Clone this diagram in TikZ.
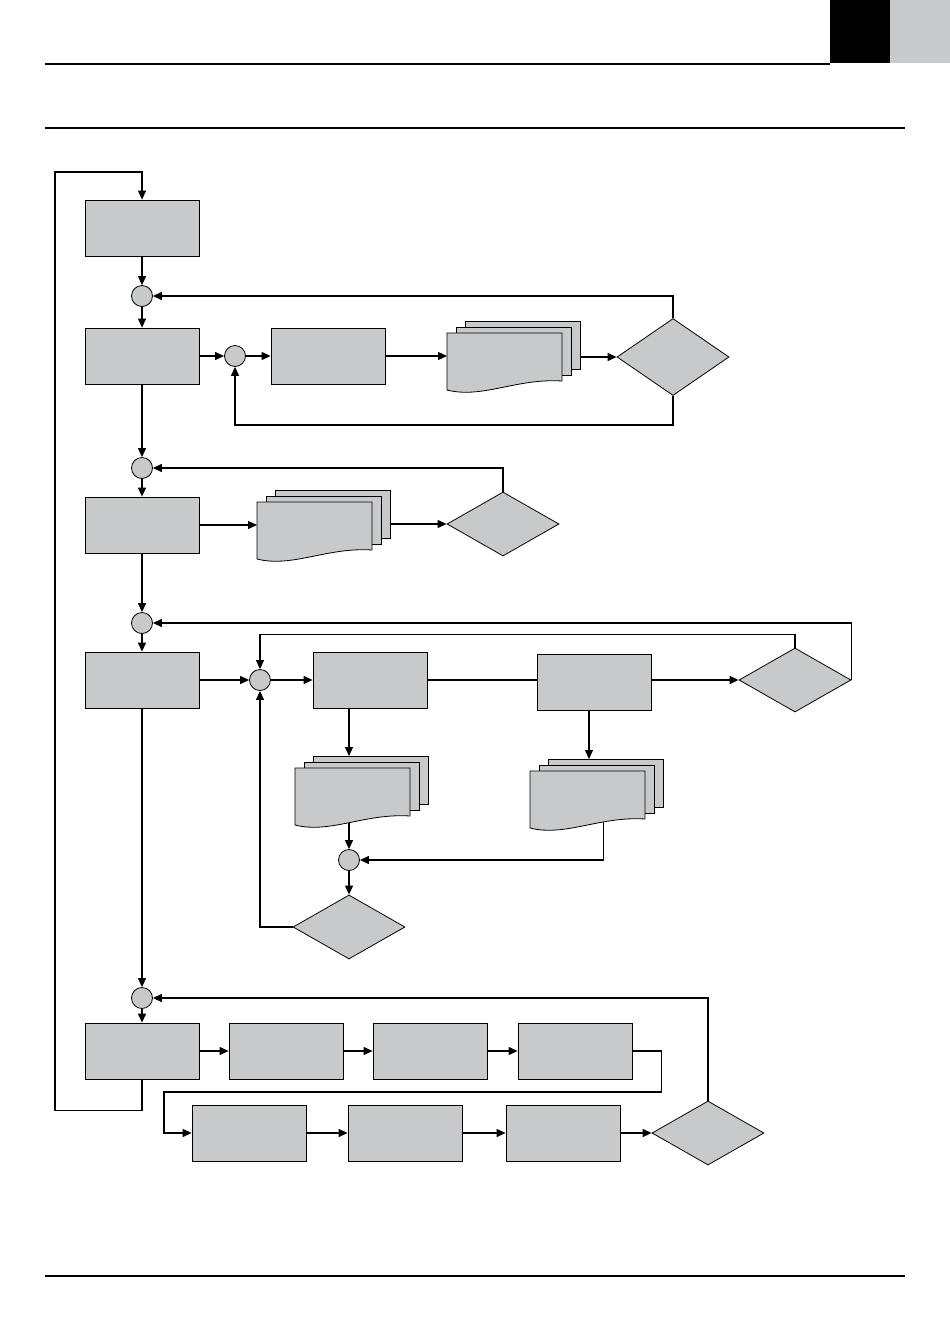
\documentclass[tikz,border=0pt]{standalone}
\usepackage{tikz}
\usetikzlibrary{shapes.geometric, arrows.meta, backgrounds}
\definecolor{boxgray}{RGB}{200,201,203}
\tikzset{
  blk/.style={draw, fill=boxgray, line width=.8pt, minimum width=114pt, minimum height=56pt, inner sep=0pt},
  junc/.style={circle, draw, fill=boxgray, line width=.8pt, minimum size=21pt, inner sep=0pt},
  dec/.style={diamond, draw, fill=boxgray, line width=.8pt, minimum width=112pt, minimum height=64pt, inner sep=0pt},
  sheet/.style={draw, fill=boxgray, line width=.8pt},
  arr/.style={line width=1.2pt, -{Triangle[length=9pt,width=8pt]}},
  ln/.style={line width=1.2pt}
}
\newcommand{\sheets}[3]{%
  \foreach \dx in {18,9} \draw[sheet] (#1+\dx,#2-\dx*2/3) rectangle ++(115,48);
  \draw[sheet] (#1,#2+57) -- (#1,#2) -- ++(115,0) -- ++(0,48) .. controls (#1+70,#2+45) and (#1+35,#2+66) .. (#1,#2+57) -- cycle;
  \node[inner sep=0pt, minimum width=133pt, minimum height=69pt, anchor=north west] (#3) at (#1,#2-12) {};
}
\begin{document}
\begin{tikzpicture}[x=1pt, y=-1pt]
    \useasboundingbox (0,0) rectangle (950,1339);
    \fill (830,0) rectangle (890,63);
    \fill[boxgray] (890,0) rectangle (950,63);
    \draw[line width=1.6pt] (45,64) -- (830,64);
    \draw[line width=1.6pt] (45,128) -- (905,128);
    \draw[line width=1.6pt] (45,1276) -- (905,1276);

    \node[blk] (a1) at (142,228) {};
    \node[junc] (c1) at (142,296) {};
    \node[blk] (a2) at (142,356) {};
    \node[junc] (c2) at (235,356) {};
    \node[blk] (b1) at (328,356) {};
    \sheets{447}{333}{d1}
    \node[dec, minimum height=77pt] (dm1) at (673,357) {};

    \node[junc] (c3) at (142,468) {};
    \node[blk] (a3) at (142,525) {};
    \sheets{257}{502}{d2}
    \node[dec] (dm2) at (503,524) {};

    \node[junc] (c4) at (142,623) {};
    \node[blk] (a4) at (142,680) {};
    \node[junc] (c5) at (260,680) {};
    \node[blk] (b2) at (370,680) {};
    \node[blk] (b3) at (594,682) {};
    \node[dec] (dm3) at (795,680) {};
    \sheets{295}{768}{d3}
    \sheets{530}{771}{d4}
    \node[junc] (c6) at (349,860) {};
    \node[dec] (dm4) at (349,927) {};

    \node[junc] (c7) at (142,998) {};
    \node[blk] (e1) at (142,1051) {};
    \foreach \n/\x in {e2/286, e3/430, e4/575} \node[blk] (\n) at (\x,1051) {};
    \foreach \n/\x in {e5/249, e6/405, e7/563} \node[blk] (\n) at (\x,1133) {};
    \node[dec] (dm5) at (708,1133) {};
    \coordinate (lp) at (55,172);
    \coordinate (turn) at (164,1092);

    \begin{scope}[on background layer]
        \draw[arr] (e1.south) -- ++(0,31) -| (lp) -| (a1.north);
        \draw[arr] (a1) -- (c1);
        \draw[arr] (c1) -- (a2);
        \draw[arr] (a2) -- (c2);
        \draw[arr] (c2) -- (b1);
        \draw[arr] (b1.east) -- (b1.east -| d1.west);
        \draw[arr] (dm1.west -| d1.east) -- (dm1.west);
        \draw[arr] (dm1.north) |- (c1.east);
        \draw[arr] (dm1.south) -- ++(0,29) -| (c2.south);

        \draw[arr] (a2) -- (c3);
        \draw[arr] (c3) -- (a3);
        \draw[arr] (a3.east) -- (a3.east -| d2.west);
        \draw[arr] (dm2.west -| d2.east) -- (dm2.west);
        \draw[arr] (dm2.north) |- (c3.east);

        \draw[arr] (a3) -- (c4);
        \draw[arr] (c4) -- (a4);
        \draw[arr] (a4) -- (c5);
        \draw[arr] (c5) -- (b2);
        \draw[ln] (b2.east) -- (b2.east -| b3.west);
        \draw[arr] (b3.east |- dm3.west) -- (dm3.west);
        \draw[arr] (dm3.north) -- ++(0,-13) -| (c5.north);
        \draw[arr] (dm3.east) |- (c4.east);
        \draw[arr] (b2.south -| c6) -- (d3.north -| c6);
        \draw[arr] ([xshift=-5pt]b3.south) -- ([xshift=-5pt]b3.south |- d4.north);
        \draw[arr] ([yshift=5pt]d3.south -| c6) -- (c6);
        \draw[arr] ([xshift=7pt,yshift=8pt]d4.south) |- (c6.east);
        \draw[arr] (c6) -- (dm4);
        \draw[arr] (dm4.west) -| (c5.south);

        \draw[arr] (a4) -- (c7);
        \draw[arr] (c7) -- (e1);
        \draw[arr] (e1) -- (e2);
        \draw[arr] (e2) -- (e3);
        \draw[arr] (e3) -- (e4);
        \draw[arr] (e4.east) -- ++(29,0) |- (turn) |- (e5.west);
        \draw[arr] (e5) -- (e6);
        \draw[arr] (e6) -- (e7);
        \draw[arr] (e7) -- (dm5);
        \draw[arr] (dm5.north) |- (c7.east);
    \end{scope}
\end{tikzpicture}
\end{document}
